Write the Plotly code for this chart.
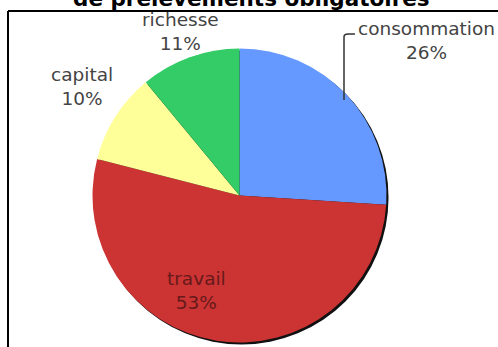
import plotly.graph_objects as go

labels = ["consommation", "travail", "capital", "richesse"]
values = [26, 53, 10, 11]
colors = ["#6699FF", "#CC3333", "#FFFF99", "#33CC66"]
title_text = "de prélèvements obligatoires"

W, H = 498, 347

def px_x(x):
    return x / W

def px_y(y):
    return 1 - y / H

cx, cy, r = 239.5, 195.5, 147

fig = go.Figure()
# shadow pie
fig.add_trace(go.Pie(
    values=[1], marker=dict(colors=["#111111"], line=dict(width=0)),
    textinfo="none", hoverinfo="skip", sort=False, showlegend=False,
    domain=dict(x=[px_x(cx - r + 2), px_x(cx + r + 2)],
                y=[px_y(cy + r + 2), px_y(cy - r + 2)]),
))
fig.add_trace(go.Pie(
    labels=labels, values=values, marker=dict(colors=colors, line=dict(width=0)),
    textinfo="none", sort=False, direction="clockwise", rotation=0,
    showlegend=False,
    domain=dict(x=[px_x(cx - r), px_x(cx + r)],
                y=[px_y(cy + r), px_y(cy - r)]),
))

label_pos = {"consommation": (426, 41), "travail": (196, 290),
             "capital": (82, 87), "richesse": (180, 31)}
label_col = {"travail": "#661a1a"}
total = sum(values)
for lab, v in zip(labels, values):
    x, y = label_pos[lab]
    fig.add_annotation(
        x=px_x(x), y=px_y(y), xref="paper", yref="paper",
        text=f"{lab}<br>{round(100 * v / total)}%", showarrow=False,
        font=dict(family="DejaVu Sans", size=18.5, color=label_col.get(lab, "#444444")),
        xanchor="center", yanchor="middle",
    )

fig.add_annotation(
    x=px_x(251), y=px_y(-1), xref="paper", yref="paper", text=title_text,
    showarrow=False, font=dict(family="DejaVu Sans", size=21.5, color="#000000", weight="bold"),
    xanchor="center", yanchor="middle",
)

shapes = [
    dict(type="line", xref="paper", yref="paper", x0=px_x(8), x1=1.0, y0=px_y(11), y1=px_y(11),
         line=dict(color="black", width=2)),
    dict(type="line", xref="paper", yref="paper", x0=px_x(8), x1=px_x(8), y0=px_y(11), y1=0,
         line=dict(color="black", width=2)),
    dict(type="path", xref="paper", yref="paper",
         path=f"M {px_x(344)},{px_y(100)} L {px_x(344)},{px_y(37)} Q {px_x(344)},{px_y(34)} {px_x(348)},{px_y(34)} L {px_x(355)},{px_y(34)}",
         line=dict(color="#333333", width=1.5)),
]

fig.update_layout(
    width=W, height=H, margin=dict(l=0, r=0, t=0, b=0),
    paper_bgcolor="white", plot_bgcolor="white", shapes=shapes,
)
fig.write_html("out.html")
